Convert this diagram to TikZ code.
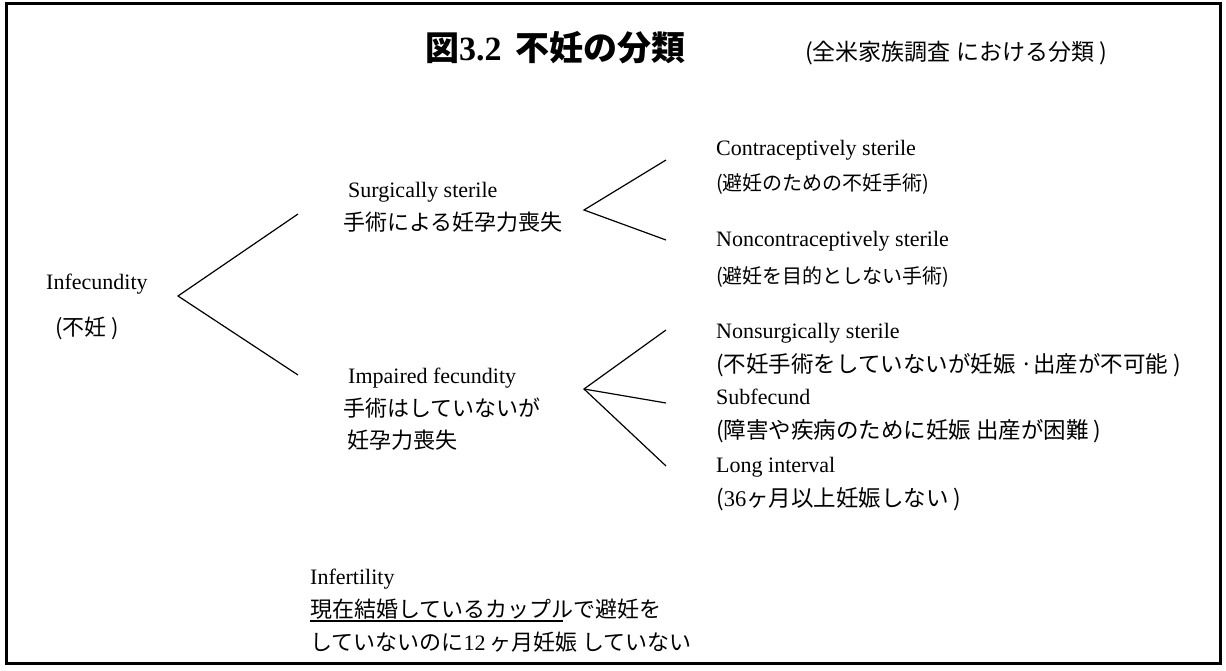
\documentclass[tikz,border=0pt]{standalone}
\usepackage{fontspec}
\setmainfont{Liberation Serif}
\newfontfamily\jp{Noto Sans CJK JP}
\begin{document}
\begin{tikzpicture}[x=1pt,y=-1pt,
  en/.style={anchor=base west,inner sep=0pt,font=\fontsize{22}{26}\selectfont},
  ja/.style={anchor=base west,inner sep=0pt,font=\jp\fontsize{22}{26}\selectfont},
  jas/.style={anchor=base west,inner sep=0pt,font=\jp\fontsize{20}{24}\selectfont},
  jam/.style={anchor=base west,inner sep=0pt,font=\jp\fontsize{22.5}{26}\selectfont},
  branch/.style={line width=1.2pt,black},
  frame/.style={line width=3pt,black}]
\useasboundingbox (0,0) rectangle (1226,671);
\draw[frame] (6,4) rectangle (1220,663);
% title
\node[anchor=base west,inner sep=0pt,font=\jp\bfseries\fontsize{34}{38}\selectfont] (title) at (425,61)
  {図{\rmfamily\bfseries 3.2}\hspace{14pt}不妊の分類};
\node[anchor=base west,inner sep=0pt,font=\jp\fontsize{23}{26}\selectfont] (subtitle) at (805,61) {(全米家族調査 における分類 )};
% root
\node[en] (inf) at (46,289) {Infecundity};
\node[ja] (infj) at (55,335) {(不妊 )};
% level 1
\node[en] (surg) at (348,198) {Surgically sterile};
\node[ja] (surgj) at (343,230) {手術による妊孕力喪失};
\node[en] (imp) at (348,383) {Impaired fecundity};
\node[ja] (impj1) at (343,416) {手術はしていないが};
\node[ja] (impj2) at (347,448) {妊孕力喪失};
% level 2 (surgical)
\node[en] (con) at (716,156) {Contraceptively sterile};
\node[jas] (conj) at (716,191) {(避妊のための不妊手術)};
\node[en] (ncon) at (716,247) {Noncontraceptively sterile};
\node[jas] (nconj) at (716,283) {(避妊を目的としない手術)};
% level 2 (impaired)
\node[en] (nsurg) at (716,338) {Nonsurgically sterile};
\node[jam] (nsurgj) at (716,372) {(不妊手術をしていないが妊娠 ·出産が不可能 )};
\node[en] (sub) at (716,404) {Subfecund};
\node[jam] (subj) at (716,438) {(障害や疾病のために妊娠 出産が困難 )};
\node[en] (long) at (716,472) {Long interval};
\node[jam] (longj) at (716,506) {({\rmfamily 36}ヶ月以上妊娠しない )};
% infertility
\node[en] (infert) at (310,584) {Infertility};
\node[ja] (infertj1) at (310,617) {現在結婚しているカップルで避妊を};
\node[ja] (infertj2) at (310,650) {していないのに{\rmfamily 12}\,ヶ月妊娠 していない};
\coordinate (ulA) at (310,621);
\coordinate (ulB) at (563,621);
\draw[line width=1.2pt] (ulA) -- (ulB);
% branch points
\coordinate (r0) at (178,296);
\coordinate (r1) at (298,214);
\coordinate (r2) at (298,375);
\coordinate (s0) at (584,210);
\coordinate (s1) at (666,160);
\coordinate (s2) at (666,240);
\coordinate (i0) at (584,389);
\coordinate (i1) at (666,330);
\coordinate (i2) at (666,403);
\coordinate (i3) at (666,466);
\draw[branch] (r1) -- (r0) -- (r2);
\draw[branch] (s1) -- (s0) -- (s2);
\draw[branch] (i1) -- (i0) -- (i3);
\draw[branch] (i0) -- (i2);
\end{tikzpicture}
\end{document}
